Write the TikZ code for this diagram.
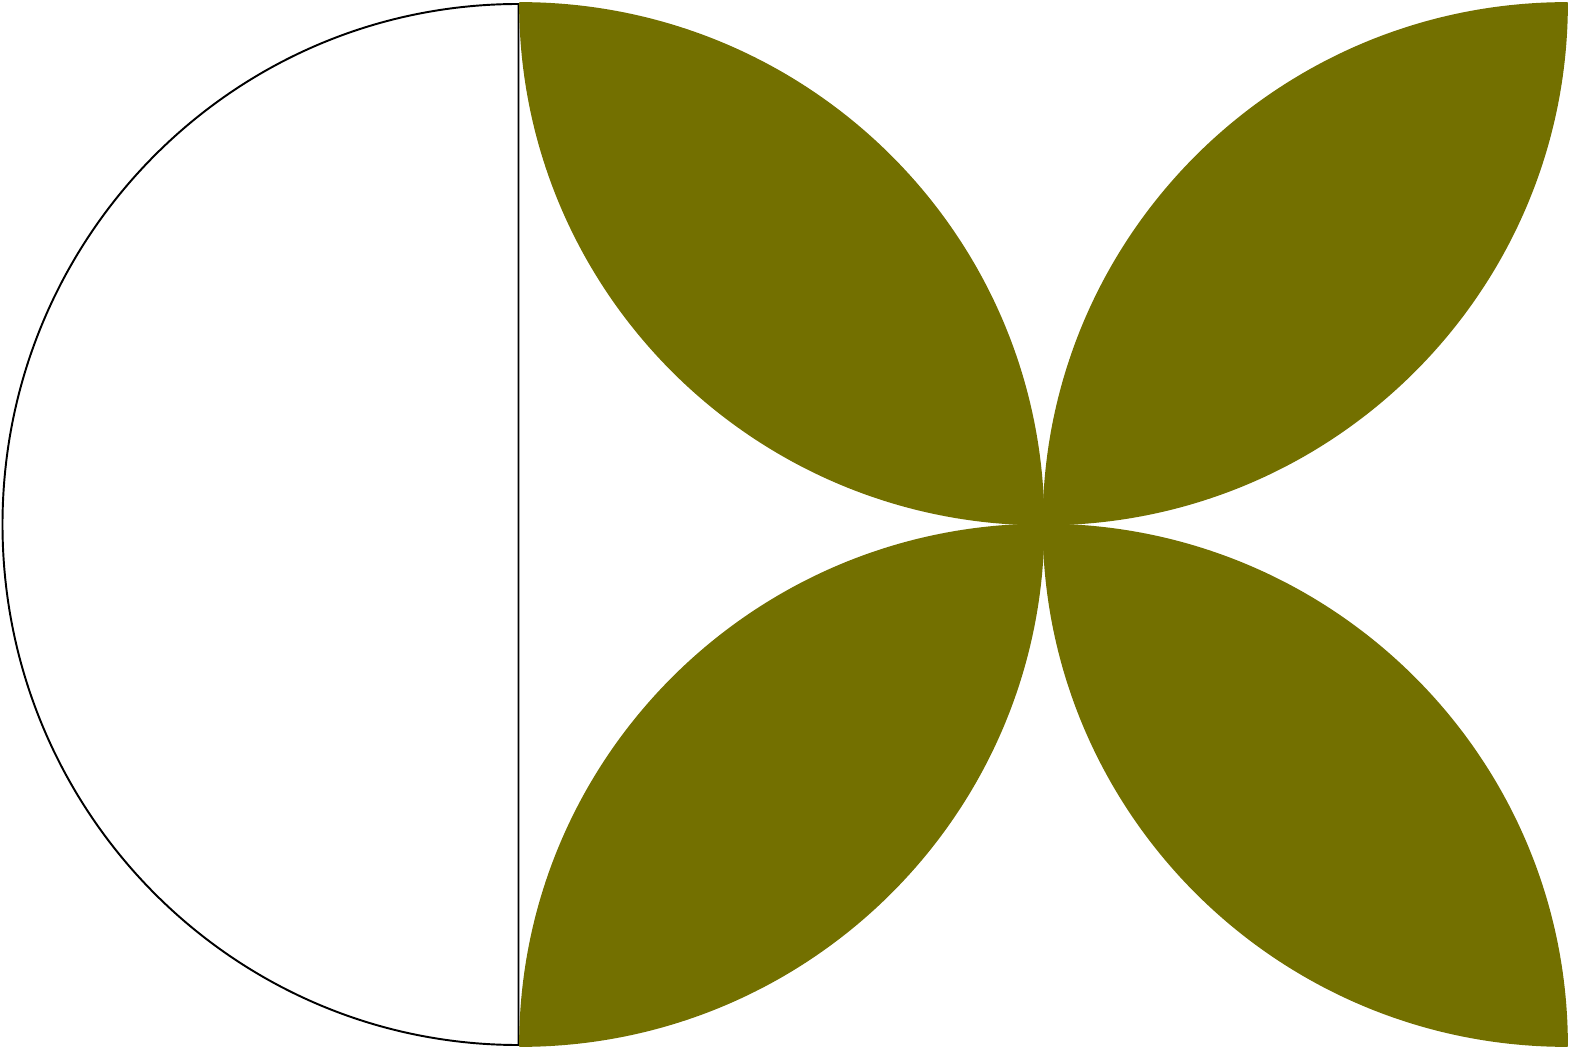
\documentclass[tikz,border=0pt]{standalone}
\usetikzlibrary{calc}
\definecolor{leafolive}{RGB}{115,112,0}
\begin{document}
\begin{tikzpicture}[x=0.01cm,y=0.01cm,
  leaf/.style={fill=leafolive,draw=leafolive,line width=0.5pt,line join=round},
  halfdisc/.style={draw=black,line width=0.55pt,fill=white}]
\useasboundingbox (0,0) rectangle (1570,1048);
\def\Rx{523.5}
\def\Ry{521.5}
\coordinate (O) at (1043.5,523.5);
% left half ellipse with its diameter
\draw[halfdisc] (518.5,1044) arc[start angle=90,end angle=270,x radius=516,y radius=520.5] -- cycle;
% top-left leaf
\filldraw[leaf] ($(O)+(-\Rx,\Ry)$) arc[start angle=90,end angle=0,x radius=\Rx,y radius=\Ry]
  arc[start angle=270,end angle=180,x radius=\Rx,y radius=\Ry] -- cycle;
% top-right leaf
\filldraw[leaf] (O) arc[start angle=180,end angle=90,x radius=\Rx,y radius=\Ry]
  arc[start angle=0,end angle=-90,x radius=\Rx,y radius=\Ry] -- cycle;
% bottom-left leaf
\filldraw[leaf] ($(O)+(-\Rx,-\Ry)$) arc[start angle=-90,end angle=0,x radius=\Rx,y radius=\Ry]
  arc[start angle=90,end angle=180,x radius=\Rx,y radius=\Ry] -- cycle;
% bottom-right leaf
\filldraw[leaf] (O) arc[start angle=180,end angle=270,x radius=\Rx,y radius=\Ry]
  arc[start angle=0,end angle=90,x radius=\Rx,y radius=\Ry] -- cycle;
\end{tikzpicture}
\end{document}
